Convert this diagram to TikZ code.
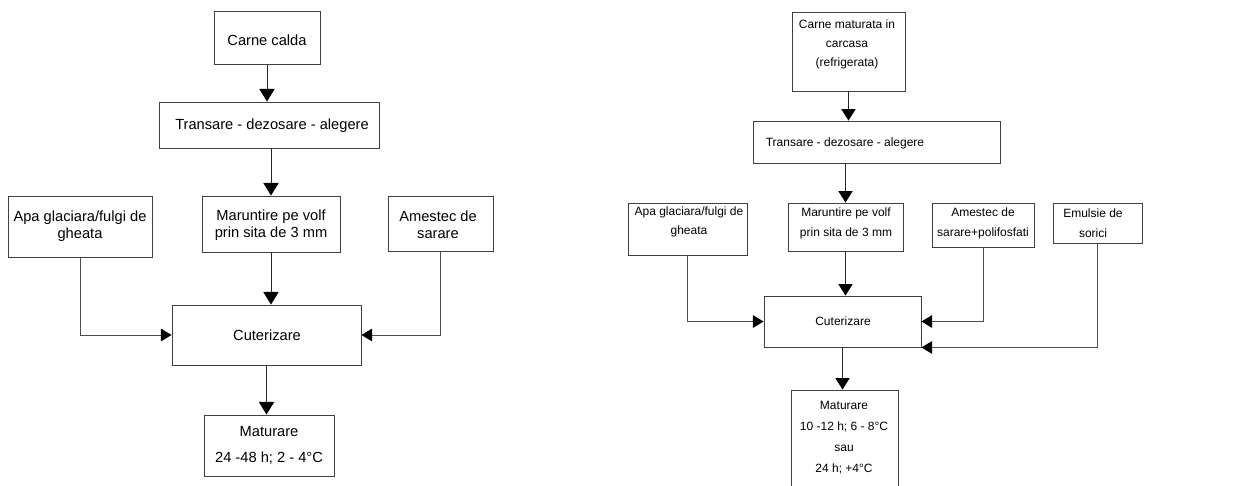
\documentclass[tikz,border=0pt]{standalone}
\usepackage{fontspec}
\setmainfont{Liberation Sans}
\usetikzlibrary{arrows.meta}
\newcommand\mkbox[5]{\node[box,minimum width={(#4-#2)*0.75pt},minimum height={(#5-#3)*0.75pt}] (#1) at ({(#2+#4)/2},{(#3+#5)/2}) {};}
\begin{document}
\begin{tikzpicture}[x=0.75pt,y=-0.75pt,
  box/.style={draw=black!75, line width=0.7pt, rectangle, inner sep=0pt},
  lt/.style={font=\fontsize{11}{12.75}\selectfont, align=center, inner sep=0pt},
  rt/.style={font=\fontsize{9}{15}\selectfont, align=center, inner sep=0pt},
  con/.style={draw=black!85, line width=0.7pt, -{Triangle[length=9.5pt,width=11.5pt,color=black]}},
  rcon/.style={draw=black!85, line width=0.7pt, -{Triangle[length=8.5pt,width=10.5pt,color=black]}},
  hcon/.style={draw=black!70, line width=0.7pt, -{Triangle[length=8pt,width=9.5pt,color=black]}}]
\useasboundingbox (0,0) rectangle (1258,486);
\clip (0,0) rectangle (1258,486);
% left diagram boxes
\mkbox{cc}{214}{11}{320}{64}
\mkbox{tl}{159}{102}{379}{148}
\mkbox{al}{8}{196}{152}{257}
\mkbox{ml}{202}{196}{340}{252}
\mkbox{sl}{388}{196}{493}{251}
\mkbox{cl}{172}{305}{361}{365}
\mkbox{mtl}{204}{415}{334}{476}
% left texts
\node[lt] (tcc) at (267,40) {Carne calda};
\node[lt] (ttl) at (272,126) {Transare - dezosare - alegere};
\node[lt] (tal) at (80,226) {Apa glaciara/fulgi de\\gheata};
\node[lt] (tml) at (271,225) {Maruntire pe volf\\prin sita de 3 mm};
\node[lt] (tsl) at (438,225) {Amestec de\\sarare};
\node[lt] (tcl) at (267,335) {Cuterizare};
\node[lt, font=\fontsize{11}{19.5}\selectfont] (tmtl) at (269,445) {Maturare\\24 -48 h; 2 - 4°C};
% left connectors
\draw[con] (cc.south) -- (cc.south |- tl.north);
\draw[con] (ml.north |- tl.south) -- (ml.north);
\draw[con] (ml.south) -- (ml.south |- cl.north);
\draw[hcon] (al.south) |- (cl.west);
\draw[hcon] (sl.south) |- (cl.east);
\draw[con] (cl.south) -- (cl.south |- mtl.north);
% right diagram boxes
\mkbox{cr}{792}{12}{905}{91}
\mkbox{tr}{753}{121}{1000}{163}
\mkbox{ar}{628}{203}{747}{255}
\mkbox{mr}{788}{203}{903}{251}
\mkbox{sr}{932}{203}{1034}{247}
\mkbox{er}{1053}{203}{1142}{243}
\mkbox{cur}{764}{296}{921}{347}
\mkbox{mtr}{791}{390}{898}{520}
% right texts
\node[rt, font=\fontsize{9}{14.25}\selectfont] (tcr) at (847,44) {Carne maturata in\\carcasa\\(refrigerata)};
\node[rt] (ttr) at (845,143) {Transare - dezosare - alegere};
\node[rt, font=\fontsize{9}{14.25}\selectfont] (tar) at (689,222) {Apa glaciara/fulgi de\\gheata};
\node[rt] (tmr) at (846,223) {Maruntire pe volf\\prin sita de 3 mm};
\node[rt] (tsr) at (983,223) {Amestec de\\sarare+polifosfati};
\node[rt] (ter) at (1093,223) {Emulsie de\\sorici};
\node[rt] (tcur) at (843,321) {Cuterizare};
\node[rt, font=\fontsize{9}{15.75}\selectfont] (tmtr) at (844,437.5) {Maturare\\10 -12 h; 6 - 8°C\\sau\\24 h; +4°C};
% right connectors
\draw[rcon] (cr.south) -- (cr.south |- tr.north);
\draw[rcon] (mr.north |- tr.south) -- (mr.north);
\draw[rcon] (mr.south) -- (mr.south |- cur.north);
\draw[hcon] (ar.south) |- (cur.west);
\draw[hcon] (sr.south) |- (cur.east);
\draw[hcon] (er.south) |- (cur.south east);
\draw[rcon] (cur.south) -- (cur.south |- mtr.north);
\end{tikzpicture}
\end{document}
